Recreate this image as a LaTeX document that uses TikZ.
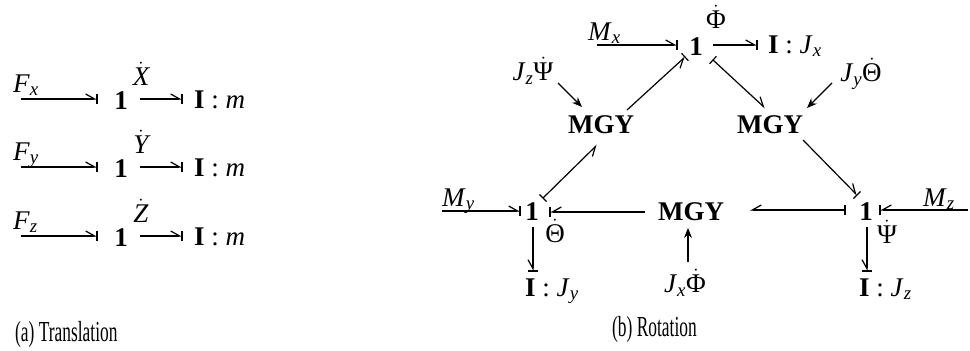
\documentclass[tikz,border=0pt]{standalone}
\usepackage{fontspec}
\usepackage{amsmath}
\usepackage{graphicx}
\setmainfont{Liberation Serif}
\usetikzlibrary{arrows.meta,decorations.markings,calc}
\newcommand\myfs{\fontsize{27}{32}\selectfont}
\newcommand\capfs{\fontsize{29}{34}\selectfont}
\newcommand\ms[1]{$_{\text{\itshape #1}}$}
\newcommand\dd[1]{$\dot{\text{#1}}$}
\newcommand\cond[1]{\scalebox{0.6}[1]{#1}}
\tikzset{
  lab/.style={inner sep=0pt, font=\myfs},
  bond/.style={line width=1.2pt},
  hl/.style={-{Straight Barb[left,length=9pt,width=10pt]}},
  hr/.style={-{Straight Barb[right,length=9pt,width=10pt]}},
  cse/.style={postaction={decorate,decoration={markings,mark=at position 0.9999 with {\draw[-,line width=1.2pt] (0,-5pt)--(0,5pt);}}}},
  css/.style={postaction={decorate,decoration={markings,mark=at position 0.0001 with {\draw[-,line width=1.2pt] (0,-5pt)--(0,5pt);}}}},
  sig/.style={line width=1.2pt,-{Stealth[length=10pt,width=8pt]}},
}
\begin{document}
\begin{tikzpicture}[x=1pt,y=-1pt]
\useasboundingbox (0,0) rectangle (970,351);
% ---------- (a) translation ----------
\node[lab,anchor=base west] (Fx) at (13,92) {\textit{F}\ms{x}};
\coordinate (fx0) at (21,99);
\node[lab] (ox) at (121,100.5) {\textbf{1}};
\node[lab] (Xd) at (141,74) {$\dot{\text{\itshape X}}$};
\node[lab,anchor=base west] (Ix) at (194,108) {\textbf{I} : \textit{m}};
\draw[bond,hl,cse] (fx0) -- ($(ox)+(-24,-1.5)$);
\draw[bond,hl,cse] ($(ox)+(19,-1.5)$) -- ($(Ix.base west)+(-12,-9)$);

\node[lab,anchor=base west] (Fy) at (13,160) {\textit{F}\ms{y}};
\coordinate (fy0) at (21,167);
\node[lab] (oy) at (121,168.5) {\textbf{1}};
\node[lab] (Yd) at (141,142) {$\dot{\text{\itshape Y}}$};
\node[lab,anchor=base west] (Iy) at (194,176) {\textbf{I} : \textit{m}};
\draw[bond,hl,cse] (fy0) -- ($(oy)+(-24,-1.5)$);
\draw[bond,hl,cse] ($(oy)+(19,-1.5)$) -- ($(Iy.base west)+(-12,-9)$);

\node[lab,anchor=base west] (Fz) at (13,229) {\textit{F}\ms{z}};
\coordinate (fz0) at (21,236);
\node[lab] (oz) at (121,237.5) {\textbf{1}};
\node[lab] (Zd) at (141,211) {$\dot{\text{\itshape Z}}$};
\node[lab,anchor=base west] (Iz) at (194,245) {\textbf{I} : \textit{m}};
\draw[bond,hl,cse] (fz0) -- ($(oz)+(-24,-1.5)$);
\draw[bond,hl,cse] ($(oz)+(19,-1.5)$) -- ($(Iz.base west)+(-12,-9)$);

\node[lab,anchor=base west,font=\capfs] (capa) at (15,341) {\cond{(a) Translation}};

% ---------- (b) rotation ----------
\node[lab] (T) at (696,47) {\textbf{1}};
\node[lab] (Phd) at (716,17) {\dd{Φ}};
\node[lab,anchor=base west] (Mx) at (588,40) {\textit{M}\ms{x}};
\coordinate (mx0) at (597,45);
\node[lab,anchor=base west] (IJx) at (768,53) {\textbf{I} : \textit{J}\ms{x}};
\node[lab] (JzPs) at (533,71) {\textit{J}\ms{z}\dd{Ψ}};
\node[lab] (JyTh) at (861,74) {\textit{J}\ms{y}\dd{Θ}};
\node[lab,font=\myfs\bfseries] (GL) at (601,125) {MGY};
\node[lab,font=\myfs\bfseries] (GR) at (770,125) {MGY};
\node[lab,font=\myfs\bfseries] (GC) at (691,212) {MGY};
\node[lab] (BL) at (532,212) {\textbf{1}};
\node[lab] (Thd) at (555,231) {\dd{Θ}};
\node[lab] (BR) at (866,212) {\textbf{1}};
\node[lab] (Psd) at (887,232) {\dd{Ψ}};
\node[lab,anchor=base west] (My) at (442,206) {\textit{M}\ms{y}};
\coordinate (my0) at (442,211);
\node[lab,anchor=base west] (Mz) at (923,206) {\textit{M}\ms{z}};
\coordinate (mz0) at (968,210);
\node[lab] (JxPh) at (685,283) {\textit{J}\ms{x}\dd{Φ}};
\node[lab,anchor=base west] (IJy) at (525,296) {\textbf{I} : \textit{J}\ms{y}};
\node[lab,anchor=base west] (IJz) at (859,296) {\textbf{I} : \textit{J}\ms{z}};
\node[lab,anchor=base west,font=\capfs] (capb) at (612,336) {\cond{(b) Rotation}};

% bonds
\draw[bond,hl,cse] (mx0) -- ($(T)+(-19,-2)$);
\draw[bond,hl,cse] ($(T)+(17,-2)$) -- ($(IJx.base west)+(-11,-8)$);
\draw[bond,hr,cse] ($(GL)+(26,-15)$) -- ($(T)+(-11,10)$);
\draw[bond,hl,css] ($(T)+(17,13)$) -- ($(GR)+(-5,-17)$);
\draw[bond,hl,cse] ($(GR)+(33,15)$) -- ($(BR)+(-9,-17)$);
\draw[bond,hr,css] ($(BR)+(-21,-2)$) -- ($(GC)+(59,-2)$);
\draw[bond,hr,cse] (mz0) -- ($(BR)+(14,-2)$);
\draw[bond,hr,cse] ($(GC)+(-46,0)$) -- ($(BL)+(18,0)$);
\draw[bond,hr,css] ($(BL)+(11,-14)$) -- ($(GL)+(-4,20)$);
\draw[bond,hl,cse] (my0) -- ($(BL)+(-12,-1)$);
\draw[bond,hr,cse] ($(BL)+(1,15)$) -- ($(IJy.base west)+(8,-25)$);
\draw[bond,hr,cse] ($(BR)+(1,15)$) -- ($(IJz.base west)+(8,-25)$);
% signals
\draw[sig] ($(JzPs)+(25,12)$) -- ($(GL)+(-19,-18)$);
\draw[sig] ($(JyTh)+(-29,9)$) -- ($(GR)+(37,-17)$);
\draw[sig] ($(JxPh)+(3,-21)$) -- ($(GC)+(-3,16)$);
\end{tikzpicture}
\end{document}
